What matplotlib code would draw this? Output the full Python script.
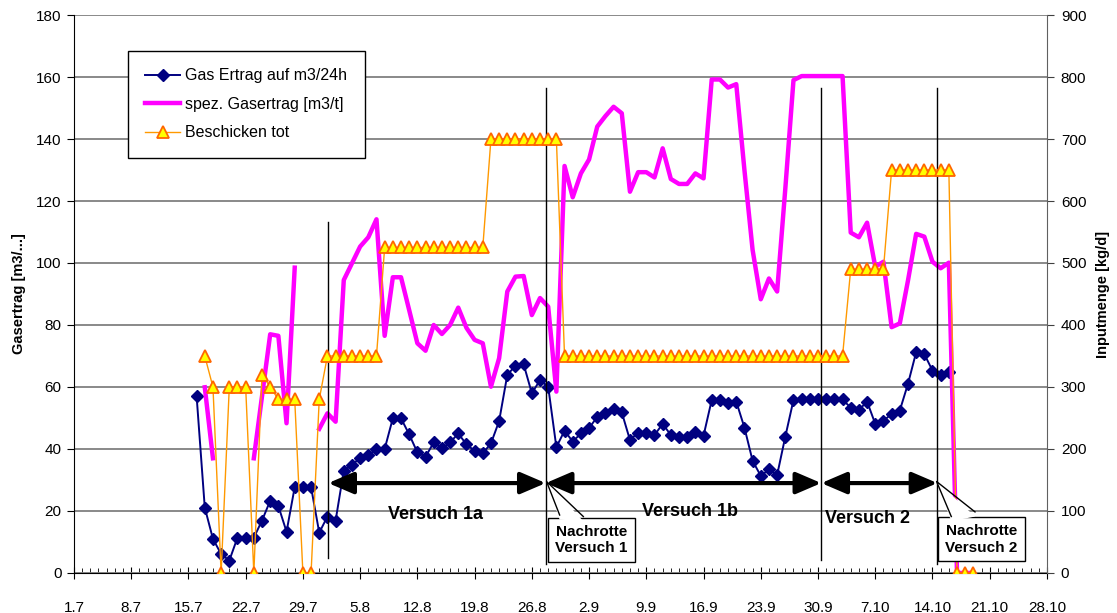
import numpy as np
import matplotlib
matplotlib.use("Agg")
import matplotlib.pyplot as plt
from matplotlib.patches import Polygon
from matplotlib.ticker import MultipleLocator

plt.rcParams['font.family'] = ['Liberation Sans', 'DejaVu Sans']

# days counted from 1.7; one reading per day
days = np.arange(15, 111)

gas_ertrag = [
    57.1, 21.1, 11.0, 6.1, 4.0, 11.4, 11.4, 11.4, 16.9, 23.3,
    21.6, 13.3, 27.7, 27.7, 27.7, 13.0, 18.2, 16.9, 33.0, 34.8,
    37.2, 38.0, 40.0, 40.0, 49.9, 49.9, 44.7, 38.9, 37.5, 42.1,
    40.2, 42.1, 45.0, 41.5, 39.4, 38.6, 41.8, 49.0, 63.9, 66.9,
    67.3, 58.0, 62.2, 60.1, 40.6, 45.9, 42.4, 45.0, 46.7, 50.4,
    51.7, 52.8, 51.8, 42.9, 45.3, 45.3, 44.5, 48.1, 44.5, 43.8,
    43.8, 45.4, 44.3, 55.8, 55.8, 54.7, 55.3, 46.9, 36.2, 31.3,
    33.4, 31.6, 44.0, 55.8, 56.0, 56.0, 56.0, 56.0, 56.0, 56.0,
    53.3, 52.6, 55.3, 48.1, 49.1, 51.3, 52.4, 61.0, 71.2, 70.6,
    65.3, 63.9, 64.9, np.nan, np.nan, np.nan,
]

spez_gasertrag = [
    np.nan, 59.9, 37.0, np.nan, np.nan, np.nan, np.nan, 37.0, 57.0, 77.0,
    76.5, 48.3, 98.5, np.nan, np.nan, 46.5, 51.5, 48.8, 94.5, 99.9,
    105.3, 108.3, 114.1, 76.5, 95.4, 95.4, 84.8, 74.1, 71.7, 80.0,
    77.1, 80.0, 85.6, 79.1, 75.2, 74.1, 60.1, 69.3, 90.8, 95.6,
    95.8, 83.2, 88.7, 85.9, 58.5, 131.3, 121.2, 128.9, 133.4, 144.0,
    147.4, 150.4, 148.3, 123.0, 129.3, 129.3, 127.6, 137.0, 127.1, 125.5,
    125.5, 128.9, 127.3, 159.2, 159.2, 156.6, 157.7, 130.0, 104.2, 88.3,
    95.0, 90.8, 124.0, 159.0, 160.3, 160.3, 160.3, 160.3, 160.3, 160.3,
    109.8, 108.3, 113.0, 98.8, 100.4, 79.3, 80.5, 94.3, 109.4, 108.5,
    100.4, 98.3, 100.1, 0.0, 0.0, 0.0,
]

beschicken = (
    [np.nan, 350, 300, 0, 300, 300, 300, 0, 320, 300,
     280, 280, 280, 0, 0, 280]
    + [350] * 7
    + [525] * 13
    + [700] * 9
    + [350] * 35
    + [490] * 5
    + [650] * 8
    + [0] * 3
)

tick_days = np.arange(0, 120, 7)
tick_labels = ['1.7', '8.7', '15.7', '22.7', '29.7', '5.8', '12.8', '19.8', '26.8',
               '2.9', '9.9', '16.9', '23.9', '30.9', '7.10', '14.10', '21.10', '28.10']

# phase boundaries (days) and labels
phase_lines = [31.1, 57.7, 91.4, 105.6]
phase_names = ['Versuch 1a', 'Versuch 1b', 'Versuch 2']
phase_label_pos = [(44.2, 19.0), (75.3, 19.7), (97.1, 17.7)]

fig = plt.figure(figsize=(11.17, 6.13), dpi=100)
ax = fig.add_axes([0.0662, 0.0653, 0.8711, 0.9102])
ax2 = ax.twinx()

ax.set_xlim(0, 119)
ax.set_ylim(0, 180)
ax2.set_ylim(0, 900)
ax.yaxis.set_major_locator(MultipleLocator(20))
ax2.yaxis.set_major_locator(MultipleLocator(100))
ax.set_xticks(tick_days)
ax.set_xticklabels(tick_labels)
ax.xaxis.set_minor_locator(MultipleLocator(1))

ax.grid(axis='y', color='#808080', lw=1.3)
ax.set_axisbelow(True)

l1, = ax.plot(days, gas_ertrag, color='#000080', lw=1.4, marker='D', ms=6.5,
              label='Gas Ertrag auf m3/24h')
l2, = ax.plot(days, spez_gasertrag, color='#FF00FF', lw=3.2,
              label='spez. Gasertrag [m3/t]')
l3, = ax2.plot(days, beschicken, color='#FF9900', lw=1.0, marker='^', ms=9,
               markerfacecolor='#FFFF00', markeredgecolor='#FF6600', markeredgewidth=1.3,
               label='Beschicken tot')

# spines and ticks
for s in ['top', 'right']:
    ax.spines[s].set_visible(False)
for s in ['top', 'left', 'bottom']:
    ax2.spines[s].set_visible(False)
ax.spines['left'].set_color('black')
ax.spines['bottom'].set_color('black')
ax2.spines['right'].set_color('#606060')

ax.tick_params(axis='y', direction='out', length=5, pad=4, labelsize=11)
ax2.tick_params(axis='y', direction='out', length=5, pad=5, labelsize=11, color='#404040')
ax.tick_params(axis='x', which='major', direction='inout', length=8, pad=16, labelsize=11)
ax.tick_params(axis='x', which='minor', direction='in', length=3.5)

ax.set_ylabel('Gasertrag [m3/...]', fontsize=10.5, fontweight='bold', labelpad=7)
ax2.set_ylabel('Inputmenge [kg/d]', fontsize=10.5, fontweight='bold', labelpad=7)

# vertical phase markers
tops = [113.2, 156.5, 156.5, 156.5]
bottoms = [4.8, 3.0, 4.2, 3.0]
for x, top, bot in zip(phase_lines, tops, bottoms):
    ax.plot([x, x], [bot, top], color='black', lw=1.0, zorder=3)

# double arrows between the markers
for x0, x1 in zip(phase_lines[:-1], phase_lines[1:]):
    ax2.annotate('', xy=(x1, 29), xytext=(x0, 29),
                 xycoords=ax.transData, textcoords=ax.transData,
                 arrowprops=dict(arrowstyle='<|-|>,head_length=0.7,head_width=0.3',
                                 mutation_scale=22, lw=3, color='black',
                                 shrinkA=0, shrinkB=0), zorder=6)

for name, (x, y) in zip(phase_names, phase_label_pos):
    ax2.text(x, y, name, transform=ax.transData, ha='center', va='center',
             fontsize=13, fontweight='bold', zorder=6)

# callouts for the post-rotting periods
callouts = [
    ('Nachrotte\nVersuch 1', (63.3, 10.6), (57.8, 29.5), (59.4, 18.7), (62.3, 18.2)),
    ('Nachrotte\nVersuch 2', (111.0, 10.9), (105.5, 29.5), (107.3, 18.2), (110.2, 19.7)),
]
for text, center, tip, b1, b2 in callouts:
    ax2.text(center[0], center[1], text, transform=ax.transData, ha='center', va='center',
             fontsize=11, fontweight='bold', linespacing=1.25, zorder=7,
             bbox=dict(boxstyle='square,pad=0.45', fc='white', ec='black', lw=1.0))
    wedge = Polygon([(b1[0], b1[1] - 1.5), tip, (b2[0], b2[1] - 1.5)], closed=True,
                    fc='white', ec='none', transform=ax.transData, zorder=8)
    ax2.add_patch(wedge)
    ax2.plot([b1[0], tip[0], b2[0]], [b1[1], tip[1], b2[1]], color='black', lw=1.0,
             transform=ax.transData, zorder=9)

leg = ax2.legend(handles=[l1, l2, l3], loc='upper left', bbox_to_anchor=(0.0552, 0.936),
                 borderaxespad=0, fontsize=11.5, frameon=True, fancybox=False,
                 edgecolor='black', framealpha=1, handlelength=2.2, handletextpad=0.3,
                 labelspacing=0.85, borderpad=1.1)
leg.get_frame().set_linewidth(1.0)
leg.set_zorder(10)

fig.savefig('out.png', dpi=100)
